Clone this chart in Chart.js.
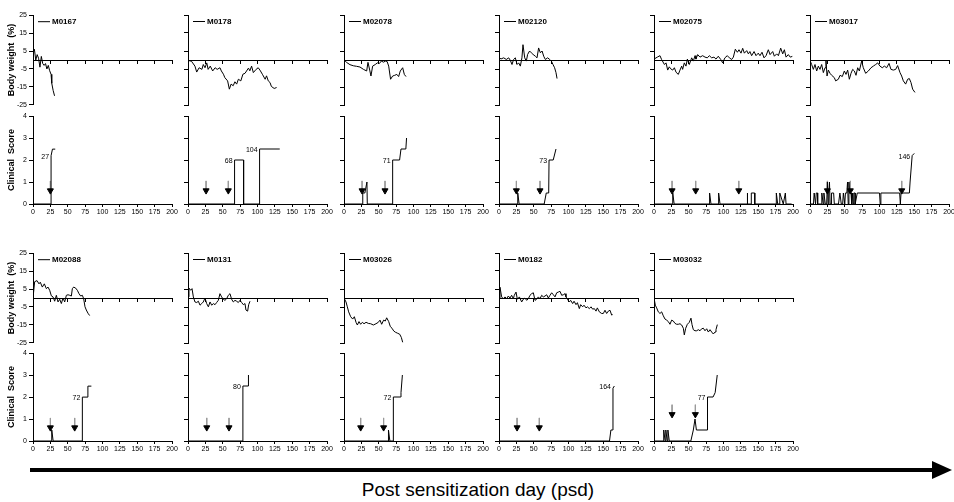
<!DOCTYPE html>
<html lang="en">
<head>
<meta charset="UTF-8">
<title>Body weight and clinical score after sensitization</title>
<script src="https://cdn.jsdelivr.net/npm/chart.js@4"></script>
<style>
  body { margin: 0; width: 954px; height: 502px; overflow: hidden; background: #fff; position: relative; font-family: Arial, "Liberation Sans", sans-serif; }
  canvas { position: absolute; }
  #timeline { position: absolute; left: 30px; top: 468px; width: 906px; height: 4px; background: #000; }
  #timeline-head { position: absolute; left: 932px; top: 461px; width: 0; height: 0; border-top: 9px solid transparent; border-bottom: 9px solid transparent; border-left: 20px solid #000; }
  #xtitle { position: absolute; left: 0; top: 479px; width: 956px; text-align: center; font-size: 19px; color: #000; }
</style>
</head>
<body>
<div id="timeline"></div>
<div id="timeline-head"></div>
<div id="xtitle">Post sensitization day (psd)</div>

<script>
// ---- data: [day, value] ----
const monkeys = ['M0167', 'M0178', 'M02078', 'M02120', 'M02075', 'M03017',
                 'M02088', 'M0131', 'M03026', 'M0182', 'M03032'];

const dayTicks = [0, 25, 50, 75, 100, 125, 150, 175, 200];
const weightTicks = [25, 15, 5, -5, -15, -25];
const scoreTicks = [0, 1, 2, 3, 4];

// body weight change (%)
const m0167Weight = [[0,4],[2,6],[4,0],[6,3],[8,1],[10,-4],[12,2],[14,-2],[16,-3],[18,-2],[20,-5],[22,-3],[24,-6],[26,-8],[27,-13],[29,-17],[31,-20]];
const m0178Weight = [[0,-0.2],[5,-0.7],[10,-3.4],[12.5,-6.7],[16,-4.3],[20,-5.2],[22,-2.5],[24.5,-4.3],[27,-1.6],[29,-5.2],[32,-3.4],[35.5,-6.1],[39,-4.3],[42,-5.2],[46,-4.3],[48,-6.1],[51,-7.9],[53,-9.8],[57,-11.6],[59.5,-16.2],[62,-13.4],[65,-14.3],[67.5,-12.1],[70,-13.4],[72.5,-10.7],[76,-11.6],[79,-7.9],[82,-7.4],[87,-4.5],[89,-6],[91.5,-3.4],[94,-7],[98,-5.2],[101,-4.3],[103.5,-5.6],[107,-7.9],[111,-10.7],[113,-8.8],[115.5,-11.6],[118,-12.5],[120,-14.7],[124,-15.8],[127.5,-15.3]];
const m02078Weight = [[0,0.1],[4,-1.4],[8.6,-2.6],[13.4,-3.2],[18,-3.5],[23,-3.9],[28,-5.2],[32.6,-6.1],[34.5,-1.3],[37,-5.6],[38.8,-8.9],[41.2,-3.4],[45,-2.5],[48,-1.6],[51,-1.9],[53.7,-0.6],[57,-1.2],[59.4,-0.6],[62,-0.8],[64.3,-3.4],[67,-10.7],[70,-8.9],[73,-8.5],[76,-8],[78.6,-9.2],[81,-6.1],[84.4,-4.3],[86.8,-8],[89.2,-9.2]];
const m02120Weight = [[0,1.2],[3,0.6],[6.7,1.2],[10.5,0.3],[14,1.2],[16.3,-0.2],[18.7,-2.5],[21,0.3],[23.5,1.2],[26,-2.5],[28.3,-1.6],[30.7,-3.4],[33,1.2],[34.5,8.5],[37,1.2],[39.3,-0.6],[41.2,3.1],[44,5],[46.5,4],[49,3.1],[52.3,2.1],[54.7,1.2],[57,6.7],[59.5,4],[62,5],[64.3,2.1],[66.7,0.3],[70,1.2],[73,0.3],[75.3,-0.6],[77.7,-2.5],[80,-4.3],[82,-7],[83.5,-10.3]];
const m02075Weight = [[0,0.5],[4.8,1.6],[8.6,2.4],[11,0.2],[15,-2.5],[17.3,-1.6],[19.7,-5.6],[22,-3.8],[24,-4.9],[27,-5.6],[29.3,-4.3],[31.7,-6.8],[35,-8],[37.4,-5.6],[39.8,-3.4],[41.2,-5.2],[43.6,-1.6],[46,-3.4],[48,0.5],[50.8,-2.5],[54.2,1.2],[56.6,-0.6],[59,2.4],[60.4,0.5],[62.8,3],[66.2,1.6],[70,2.4],[73.4,1.6],[76.7,1.2],[79.6,2.4],[83,1.2],[86.3,1.6],[89.2,0.5],[92.5,2.1],[96,0.3],[98.8,-1.6],[102,1.2],[105.5,2.4],[108.4,1.2],[111.8,0.3],[114.2,1.6],[117,6],[120,4.3],[122.3,5.7],[125.2,3.8],[127.6,6.5],[130,3.8],[133.4,5.2],[135.8,3.4],[138,4.7],[140.5,2.4],[144,4.7],[146.8,2.4],[150,3.8],[152.5,2.4],[155.4,4.3],[158.3,1.2],[161.2,2.4],[164.5,5.7],[167,3],[170.8,4.7],[173.2,2.1],[176.5,3.4],[179,2.4],[182.3,6.6],[185.2,3.4],[187.6,5.7],[190,1.6],[193.3,3],[196,1.6],[199,2]];
const m03017Weight = [[0,-0.2],[2.4,-2.5],[4.8,-5.2],[7.2,-2.5],[9.6,-6.1],[12,-3.4],[14.4,-5.2],[16.8,-2.5],[19.2,-7],[21.6,-4.3],[23,-0.3],[24.5,-8.9],[26.4,-5.6],[28.8,-7.4],[31.2,-8.5],[35,-9.8],[36.9,-11.6],[40.8,-10.7],[43.2,-8.5],[46.5,-9.2],[49.4,-6.1],[51.8,-8],[54.2,-5.6],[56.6,-10.7],[59,-7.4],[61.4,-5.2],[63.8,-6.1],[66.2,-8.5],[68.6,-4.3],[71,-6.1],[74.3,-0.6],[76.7,-4.3],[80.1,-7.4],[84,-6.1],[87.8,-4.3],[91.1,-3.4],[94.5,-2.5],[97.4,-1.6],[100.7,-3.4],[104,-4.3],[107,-3.4],[110.3,-4.3],[113.7,-1.9],[116.5,-5.2],[119.9,-5.6],[123.3,-5.2],[126.1,-3.1],[129.5,-7],[131.9,-8.9],[134.3,-11.6],[137.6,-13.4],[140.5,-10.7],[142.9,-10.3],[145.3,-12.5],[147.7,-16.2],[151,-18]];
const m02088Weight = [[0,0],[2.4,9.1],[5.8,9.7],[8.6,7.9],[10.5,8.8],[13.4,6.1],[16.3,7.9],[19.2,5.2],[21.6,6.1],[24,4.3],[26.4,1.2],[28.8,0.6],[31.2,-1.8],[33.6,1.5],[36,-2.2],[38.4,-0.7],[40.8,-3.1],[43.2,0],[45.6,-2.2],[48,1.5],[50.4,1.8],[52.8,1.5],[55.2,1.1],[56.6,5.2],[58.5,6.1],[61.4,5.5],[63.8,4.3],[66.2,2.4],[68.6,1.1],[71,1.5],[72.9,-0.4],[74.8,-4.9],[76.7,-6.7],[79.1,-8.5],[81.5,-9.8]];
const m0131Weight = [[0,0.6],[1.4,5.5],[3.8,4.3],[5.8,5.2],[7.7,0.6],[10,-2.2],[12.5,-2.5],[14.9,-1.8],[17.3,-4],[19.7,-3.1],[22,-2.2],[24.5,0],[26.9,-3.1],[29.3,-4.9],[31.7,-2.2],[34.1,-4],[36.5,-3.1],[38.9,-3.7],[41.2,-2.5],[43.6,-1.3],[46,2.4],[48.4,0.6],[50.8,-0.7],[53.2,-1.3],[55.6,-0.4],[58,1.5],[60.4,2.4],[62.8,-0.7],[65.2,-2.2],[67.6,-1.3],[70,-1.8],[72.4,-2.5],[74.8,-1.3],[77.2,-2.5],[79.6,-3.7],[82,-3.1],[83.4,-6.7],[85.8,-7.3],[87.3,-3.7],[89.2,-1.8]];
const m03026Weight = [[0,0],[2.9,-2.2],[4.8,-4.9],[6.7,-7.7],[9.6,-10.4],[12.5,-11.7],[14.9,-10.4],[17.3,-13.5],[19.2,-15],[21.6,-13.1],[23.9,-14.6],[26.4,-13.5],[28.8,-14.3],[31.7,-13.5],[35,-14.1],[38.4,-14.3],[42.2,-15],[46,-14.3],[49.4,-13.5],[51.8,-12.3],[54.2,-14.6],[57,-12.3],[59.4,-12.8],[61.4,-11],[64.3,-13.1],[66.7,-15.9],[69.1,-16.8],[71.5,-18.3],[73.9,-19],[77.2,-19.6],[80.1,-20.1],[82.5,-21.9],[84.4,-24.6]];
const m0182Weight = [[0,0],[1.4,6],[3.8,0.6],[6.2,-0.4],[8.6,0.6],[11,-0.4],[13.4,1.1],[15.8,0],[18.2,1.5],[20.6,-0.4],[22,1.5],[24.5,3.3],[26.4,-0.7],[29.3,0.6],[32.6,-2.2],[35,-0.7],[37.4,0],[39.8,-1.3],[42.2,-0.4],[44.6,1.5],[47,2.4],[49.4,2.9],[51.8,-1.3],[54.2,-0.7],[56.6,0.6],[59,-0.4],[61.4,1.5],[63.8,0.6],[66.2,1.1],[68.6,1.8],[71,0],[73.4,1.5],[75.8,2.9],[78.2,1.8],[80.6,0.6],[83,2.9],[85.4,3.3],[87.8,3.7],[90.2,1.5],[92.6,1.8],[95,2.4],[96.4,0.6],[98.4,-0.7],[101.2,-2.2],[103.1,-1.3],[106,-3.1],[108,-1.8],[110.8,-3.7],[112.8,-2.6],[115.6,-5.9],[117.5,-3.7],[120.4,-4.9],[122.3,-4],[125.2,-5.5],[127.2,-4.9],[130,-5.9],[132.4,-4.9],[134.8,-6.2],[137.2,-5.9],[139.6,-7.3],[141.5,-5.5],[144.4,-7.7],[147.7,-8.6],[150.1,-8.6],[152.5,-6.8],[154.9,-8.6],[157.3,-7.3],[159.7,-6.8],[162.1,-9.5],[163.5,-9.2]];
const m03032Weight = [[0,0],[1.9,-4],[3.8,-5.5],[6.2,-7.7],[8.6,-8.6],[11,-7.7],[13.4,-9.9],[15.8,-11.7],[18.2,-12.3],[20.6,-13.1],[23,-14.6],[25.4,-12.3],[27.8,-12.8],[30.2,-14.1],[32.6,-14.6],[35,-14.6],[37.4,-14.3],[39.8,-15],[42.2,-16.8],[43.6,-20.5],[45.6,-16.8],[48,-14.6],[50.8,-13.5],[53.2,-11.2],[54.7,-14.8],[56.6,-17.6],[59,-18.2],[61.4,-18.2],[63.8,-17.6],[66.2,-18.2],[68.6,-17.1],[71,-16.8],[73.4,-18.2],[75.8,-17.1],[78.2,-18.9],[80.6,-17.6],[83,-18.9],[85.4,-20],[87.8,-18.9],[89.2,-17.6],[91.1,-14.8]];

// clinical score
const m0167Score = [[0,0],[26,0],[26,2.2],[28,2.5],[32,2.5]];
const m0178Score = [[0,0],[67,0],[67,2],[80,2],[80,0],[103,0],[103,2.5],[132,2.5]];
const m02078Score = [[0,0],[27,0],[27,0.5],[30,0.5],[33,1],[33.5,0],[70,0],[70,2],[80,2],[82,2.5],[89,2.5],[90,3]];
const m02120Score = [[0,0],[27,0],[27,0.5],[29,0],[65,0],[68,0.5],[71.5,0.5],[72,2],[78,2],[82,2.5]];
const m02075Score = [[0,0],[27,0],[27,0.5],[29,0],[80,0],[80,0.5],[82,0],[93,0],[93,0.5],[95,0],[134,0],[134,0.5],[135,0],[140,0],[140,0.5],[145,0.5],[145,0],[176,0],[176,0.5],[178,0],[181,0],[181,0.5],[186,0],[189,0.5],[190,0],[198,0]];
const m03017Score = [[0,0],[5,0],[6,0.5],[8,0],[9,0.5],[11,0.5],[11,0],[16,0],[17,0.5],[19,0],[20,0.5],[22,0],[24,0],[25,1],[26,0],[27,0.5],[28,1],[29,0],[31,0],[31,0.5],[34,0.5],[35,0],[41,0],[43,0.5],[45,0],[47,0],[48,0.5],[50,0],[51,0.5],[53,0.5],[54,1],[55,0],[56,1],[57,0.5],[59,0.5],[60,0],[61,0.5],[62,0],[63,0.5],[65,0.5],[65,0],[68,0.5],[100,0.5],[101,0],[102,0.5],[129,0.5],[130,0],[131,0.5],[143,0.5],[144,1],[147,2.2],[150,2.3]];
const m02088Score = [[0,0],[27,0],[27,0.5],[29,0],[71,0],[71,2],[79,2],[79,2.5],[84,2.5]];
const m0131Score = [[0,0],[79,0],[79,2.5],[87,2.5],[87,3]];
const m03026Score = [[0,0],[64,0],[64,0.5],[66,0],[71,0],[71,2],[81,2],[82,2.2],[84,3]];
const m0182Score = [[0,0],[159,0],[161,0.5],[163,0.5],[164,2.4],[166,2.5]];
const m03032Score = [[0,0],[14,0],[14,0.5],[16,0],[17,0],[17,0.5],[19,0],[20,0],[20,0.5],[22,0],[53,0],[56.6,0.5],[59,1],[61,0.5],[77,0.5],[77,2],[85,2],[88,2.2],[91,3]];

// boost days (arrows) and the score level the arrow tips point at
const boostDays = [[25], [26, 58], [26, 59], [25, 59], [26, 60, 122], [25, 58, 132],
                   [25, 60], [27, 59], [24, 57], [26, 58], [26, 59.5]];
const arrowTips = [0.45, 0.45, 0.45, 0.45, 0.45, 0.45, 0.45, 0.45, 0.45, 0.45, 1.05];

// onset annotations: [day, score, text]
const onsetLabels = [
  [[26, 2.2, '27']],
  [[67, 2, '68'], [103, 2.5, '104']],
  [[70, 2, '71']],
  [[72, 2, '73']],
  [],
  [[147, 2.2, '146']],
  [[71, 2, '72']],
  [[79, 2.5, '80']],
  [[71, 2, '72']],
  [[164, 2.5, '164']],
  [[77, 2, '77']]
];

const weightSeries = [m0167Weight, m0178Weight, m02078Weight, m02120Weight, m02075Weight, m03017Weight,
                      m02088Weight, m0131Weight, m03026Weight, m0182Weight, m03032Weight];
const scoreSeries = [m0167Score, m0178Score, m02078Score, m02120Score, m02075Score, m03017Score,
                     m02088Score, m0131Score, m03026Score, m0182Score, m03032Score];

// ---- layout ----
const colX = [33, 188, 344, 499, 654, 810];      // pixel of the y axis in each column
const weightTop = [15, 253];
const scoreTop = [116, 353];
const plotW = 139, weightH = 90, scoreH = 88, axisW = 33, padT = 6, padR = 10;

// name tag drawn like the little legends in the figure
const nameTag = {
  id: 'nameTag',
  afterDraw(chart, args, opts) {
    if (!opts.text) return;
    const { ctx, chartArea } = chart;
    const y = chartArea.top + 6;
    ctx.save();
    ctx.strokeStyle = '#000';
    ctx.lineWidth = 1;
    ctx.beginPath();
    ctx.moveTo(chartArea.left + 5, y + 0.5);
    ctx.lineTo(chartArea.left + 17, y + 0.5);
    ctx.stroke();
    ctx.font = 'bold 8px Arial';
    ctx.fillStyle = '#000';
    ctx.textBaseline = 'middle';
    ctx.fillText(opts.text, chartArea.left + 19, y + 1);
    ctx.restore();
  }
};

// day-of-onset numbers next to the score line
const onsetTag = {
  id: 'onsetTag',
  afterDatasetsDraw(chart, args, opts) {
    const { ctx, scales: { x, y } } = chart;
    ctx.save();
    ctx.font = '7px Arial';
    ctx.fillStyle = '#000';
    ctx.textAlign = 'right';
    ctx.textBaseline = 'middle';
    (opts.items || []).forEach(([d, s, t]) => {
      ctx.fillText(t, x.getPixelForValue(d) - 2, y.getPixelForValue(s) + 1);
    });
    ctx.restore();
  }
};

function addCanvas(left, top, w, h) {
  const c = document.createElement('canvas');
  c.width = w;
  c.height = h;
  c.style.left = left + 'px';
  c.style.top = top + 'px';
  c.style.width = w + 'px';
  c.style.height = h + 'px';
  document.body.appendChild(c);
  return c;
}

const toPoints = arr => arr.map(([x, y]) => ({ x, y }));
const axisFont = { family: 'Arial', size: 7 };

monkeys.forEach((name, i) => {
  const row = i < 6 ? 0 : 1;
  const col = i < 6 ? i : i - 6;
  const first = col === 0;
  const left = colX[col] - axisW;

  // body weight panel
  const wCanvas = addCanvas(left, weightTop[row] - padT, axisW + plotW + padR, padT + weightH + 6);
  new Chart(wCanvas, {
    type: 'line',
    data: {
      datasets: [{
        data: toPoints(weightSeries[i]),
        borderColor: '#000',
        borderWidth: 1,
        pointRadius: 0,
        tension: 0
      }]
    },
    options: {
      responsive: false,
      animation: false,
      devicePixelRatio: 1,
      layout: { padding: { top: padT, right: padR, bottom: 6, left: 0 } },
      plugins: { legend: { display: false }, tooltip: { enabled: false }, nameTag: { text: name } },
      scales: {
        x: {
          type: 'linear', min: 0, max: 200,
          position: { y: 0 },
          afterBuildTicks: s => { s.ticks = dayTicks.map(v => ({ value: v })); },
          afterFit: s => { s.height = 0; },
          ticks: { display: false },
          grid: { drawOnChartArea: false, tickLength: 3, color: '#000' },
          border: { color: '#000', width: 1 }
        },
        y: {
          min: -25, max: 25,
          afterBuildTicks: s => { s.ticks = weightTicks.map(v => ({ value: v })); },
          afterFit: s => { s.width = axisW; },
          ticks: { display: first, font: axisFont, color: '#000', padding: 2 },
          grid: { drawOnChartArea: false, tickLength: 4, color: '#000' },
          border: { color: '#000', width: 1 },
          title: { display: first, text: 'Body weight  (%)', color: '#000',
                   font: { family: 'Arial', size: 9, weight: 'bold' }, padding: { top: 6, bottom: 0 } }
        }
      }
    },
    plugins: [nameTag]
  });

  // clinical score panel
  const arrowSets = boostDays[i].map(d => ({
    data: [{ x: d, y: arrowTips[i] + 0.6 }, { x: d, y: arrowTips[i] + 0.16 }],
    borderColor: '#9a9a9a',
    borderWidth: 1,
    pointRadius: [0, 3.5],
    pointStyle: 'triangle',
    pointRotation: 180,
    pointBackgroundColor: '#000',
    pointBorderColor: '#000',
    pointBorderWidth: 1
  }));

  const sCanvas = addCanvas(left, scoreTop[row] - padT, axisW + plotW + padR, padT + scoreH + 18);
  new Chart(sCanvas, {
    type: 'line',
    data: {
      datasets: [{
        data: toPoints(scoreSeries[i]),
        borderColor: '#000',
        borderWidth: 1,
        pointRadius: 0,
        tension: 0
      }].concat(arrowSets)
    },
    options: {
      responsive: false,
      animation: false,
      devicePixelRatio: 1,
      layout: { padding: { top: padT, right: padR, bottom: 0, left: 0 } },
      plugins: { legend: { display: false }, tooltip: { enabled: false }, onsetTag: { items: onsetLabels[i] } },
      scales: {
        x: {
          type: 'linear', min: 0, max: 200,
          afterBuildTicks: s => { s.ticks = dayTicks.map(v => ({ value: v })); },
          afterFit: s => { s.height = 18; },
          ticks: { font: axisFont, color: '#000', padding: 1, maxRotation: 0 },
          grid: { drawOnChartArea: false, tickLength: 3, color: '#000' },
          border: { color: '#000', width: 1 }
        },
        y: {
          min: 0, max: 4,
          afterBuildTicks: s => { s.ticks = scoreTicks.map(v => ({ value: v })); },
          afterFit: s => { s.width = axisW; },
          ticks: { display: first, font: axisFont, color: '#000', padding: 2 },
          grid: { drawOnChartArea: false, tickLength: 4, color: '#000' },
          border: { color: '#000', width: 1 },
          title: { display: first, text: 'Clinical  Score', color: '#000',
                   font: { family: 'Arial', size: 9, weight: 'bold' }, padding: { top: 6, bottom: 0 } }
        }
      }
    },
    plugins: [onsetTag]
  });
});
</script>
</body>
</html>
